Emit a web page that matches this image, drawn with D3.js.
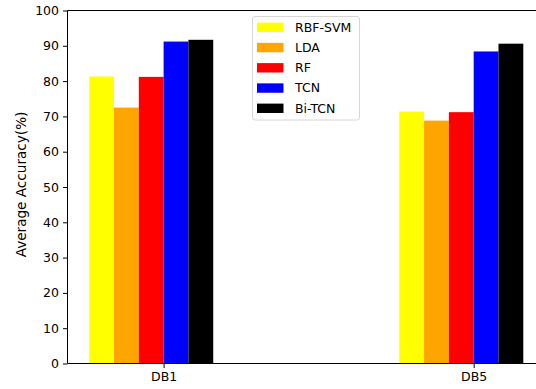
<!DOCTYPE html>
<html><head><meta charset="utf-8">
<script src="https://cdn.jsdelivr.net/npm/d3@7"></script>
<style>html,body{margin:0;padding:0;background:#fff;}svg{display:block;font-family:"DejaVu Sans",sans-serif;}</style>
</head><body>
<script>
const categories = ["DB1", "DB5"];
const seriesNames = ["RBF-SVM", "LDA", "RF", "TCN", "Bi-TCN"];
const seriesColors = ["#ffff00", "#ffa500", "#ff0000", "#0000ff", "#000000"];
const rbfSvm = [81.3, 71.4];
const lda = [72.5, 68.8];
const rf = [81.2, 71.2];
const tcn = [91.2, 88.4];
const biTcn = [91.7, 90.6];
const yTicks = [0, 10, 20, 30, 40, 50, 60, 70, 80, 90, 100];
const seriesValues = [rbfSvm, lda, rf, tcn, biTcn];

(function () {
const W = 536, H = 389;
const mL = 67.5, mT = 10.5, mB = 363.5, mR = 545;
const svg = d3.select("body").append("svg").attr("width", W).attr("height", H);

const barW = 0.08;
const x = d3.scaleLinear().domain([-0.31, 1.23]).range([mL, mR]);
const y = d3.scaleLinear().domain([0, 100]).range([mB, mT]);

// bars
seriesValues.forEach((vals, k) => {
  svg.append("g").selectAll("rect").data(vals).join("rect")
    .attr("x", (d, i) => x(i + (k - 3) * barW))
    .attr("width", x(barW) - x(0))
    .attr("y", d => y(d))
    .attr("height", d => y(0) - y(d))
    .attr("fill", seriesColors[k]);
});

// axes
const yAxis = d3.axisLeft(y).tickValues(yTicks).tickSize(4.5).tickPadding(4);
const gy = svg.append("g").attr("transform", `translate(${mL},0)`).call(yAxis);
const xAxis = d3.axisBottom(x).tickValues([0, 1]).tickFormat((d, i) => categories[i]).tickSize(4.5).tickPadding(4);
const gx = svg.append("g").attr("transform", `translate(0,${mB})`).call(xAxis);
[gx, gy].forEach(g => {
  g.select(".domain").remove();
  g.selectAll("text").attr("font-size", 12.5).attr("fill", "#000").attr("font-family", "DejaVu Sans");
  g.selectAll("line").attr("stroke", "#000");
});
// spines
svg.append("line").attr("x1", mL).attr("x2", mL).attr("y1", mT).attr("y2", mB).attr("stroke", "#000");
svg.append("line").attr("x1", mL).attr("x2", mR).attr("y1", mB).attr("y2", mB).attr("stroke", "#000");
svg.append("line").attr("x1", mL).attr("x2", mR).attr("y1", mT).attr("y2", mT).attr("stroke", "#000");

// y label
svg.append("text").attr("transform", `translate(25.5,184.5) rotate(-90)`)
  .attr("text-anchor", "middle").attr("font-size", 13.6).text("Average Accuracy(%)");

// legend
const lg = svg.append("g");
lg.append("rect").attr("x", 252.5).attr("y", 16.5).attr("width", 107).attr("height", 103.5)
  .attr("rx", 2.5).attr("fill", "#fff").attr("fill-opacity", 0.8).attr("stroke", "#d6d6d6");
seriesNames.forEach((n, k) => {
  const cy = 27.3 + k * 20.25;
  lg.append("rect").attr("x", 257).attr("y", cy - 4.7).attr("width", 26.5).attr("height", 9.4).attr("fill", seriesColors[k]);
  lg.append("text").attr("x", 295).attr("y", cy).attr("dy", "0.35em").attr("font-size", 12.5).text(n);
});
})();
</script>
</body></html>
